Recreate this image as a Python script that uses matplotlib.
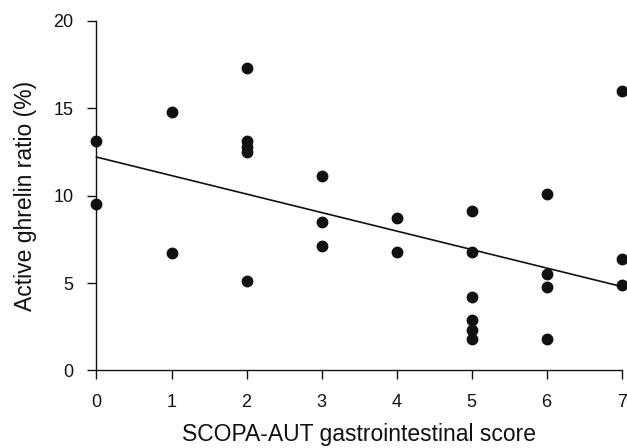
import matplotlib
matplotlib.use("Agg")
import matplotlib.pyplot as plt

# SCOPA-AUT gastrointestinal score vs active ghrelin ratio
score = [0, 0, 1, 1, 2, 2, 2, 2, 2, 3, 3, 3, 4, 4,
         5, 5, 5, 5, 5, 5, 6, 6, 6, 6, 7, 7, 7]
ghrelin = [13.1, 9.5, 14.8, 6.7, 17.3, 13.1, 12.8, 12.5, 5.1, 11.1, 8.5, 7.1, 8.7, 6.8,
           9.1, 6.8, 4.2, 2.9, 2.3, 1.8, 10.1, 5.5, 4.8, 1.8, 16.0, 6.4, 4.9]

# regression line end points
fit_x = [0, 7]
fit_y = [12.2, 4.8]

x_ticks = [0, 1, 2, 3, 4, 5, 6, 7]
y_ticks = [0, 5, 10, 15, 20]

plt.rcParams["font.family"] = ["Liberation Sans", "DejaVu Sans"]

fig = plt.figure(figsize=(6.27, 4.48), dpi=100)
ax = fig.add_axes([0.1539, 0.173, 0.8376, 0.781])

ax.plot(fit_x, fit_y, color="#111111", linewidth=1.2, clip_on=False)
ax.plot(score, ghrelin, "o", color="#111111", markersize=7.5, clip_on=False, zorder=3)

ax.set_xlim(0, 7)
ax.set_ylim(0, 20)
ax.set_xticks(x_ticks)
ax.set_yticks(y_ticks)

for s in ["top", "right"]:
    ax.spines[s].set_visible(False)
for s in ["left", "bottom"]:
    ax.spines[s].set_linewidth(1.0)
    ax.spines[s].set_color("#111111")

ax.tick_params(direction="out", length=6.7, width=1.0, color="#111111",
               labelsize=13, pad=10, labelcolor="#111111")

ax.set_xlabel("SCOPA-AUT gastrointestinal score", fontsize=16.5, labelpad=9, color="#111111")
ax.set_ylabel("Active ghrelin ratio (%)", fontsize=16.5, labelpad=12, color="#111111")

fig.savefig("out.png", dpi=100)
